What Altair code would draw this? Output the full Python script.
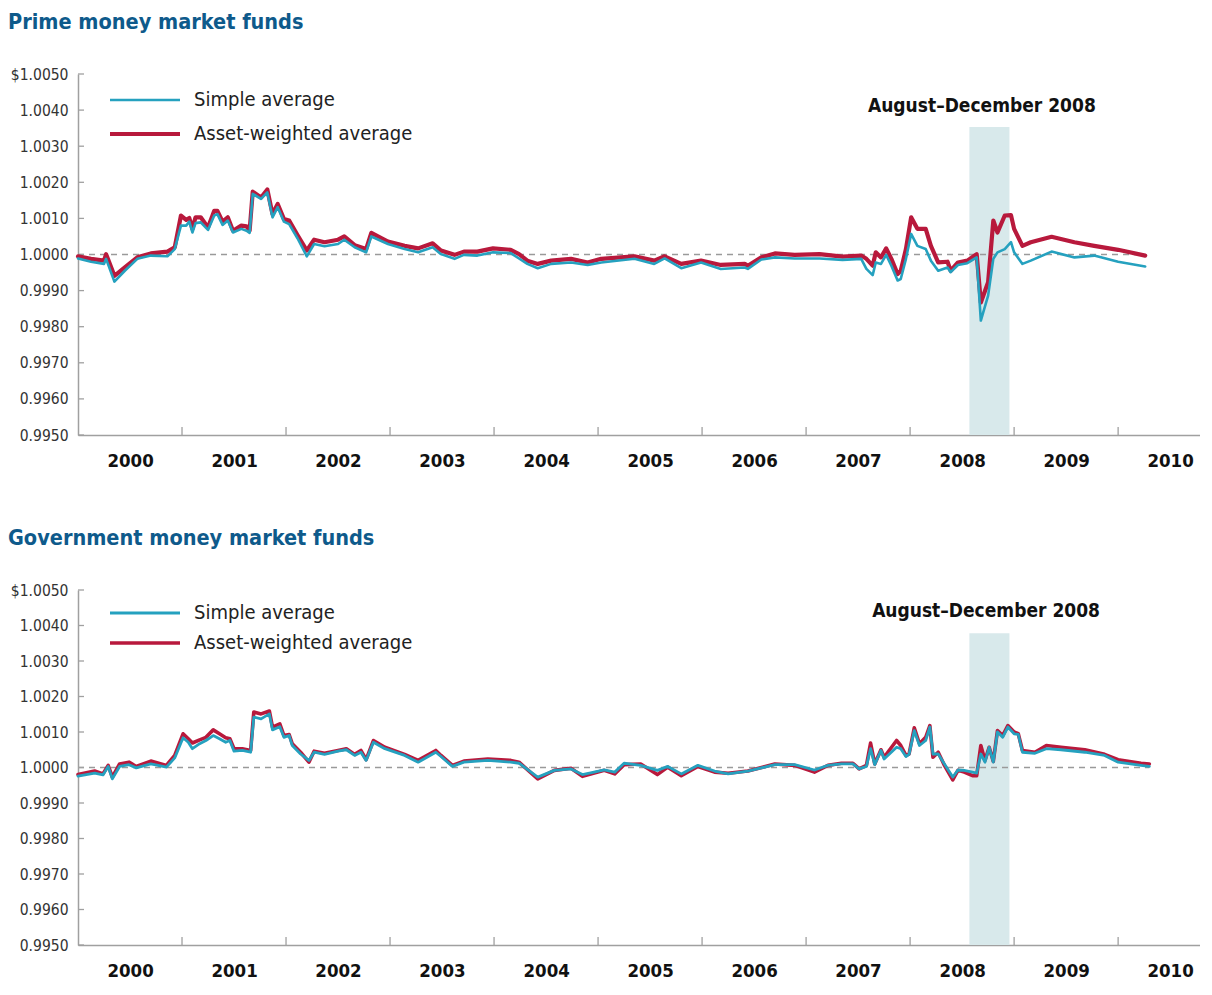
import altair as alt
import pandas as pd

FONT = "DejaVu Sans Condensed, Liberation Sans Narrow, sans-serif"
TEAL = "#25a1bf"
RED = "#b8193c"
SHADE = "#d8e9eb"
TITLE_BLUE = "#0e5a8b"
AXIS_GRAY = "#a0a0a0"

# ---------------- data ----------------
series_names = ["Simple average", "Asset-weighted average"]
y_tick_values = [0.9950, 0.9960, 0.9970, 0.9980, 0.9990, 1.0000,
                 1.0010, 1.0020, 1.0030, 1.0040, 1.0050]
year_labels = list(range(2000, 2011))
year_boundaries = list(range(2001, 2011))
par_value = 1.0000

crisis_label = "August\u2013December 2008"
crisis_start = 2008.57   # decimal years
crisis_end = 2008.955

# Prime funds: dates (decimal years) and NAV deviation from $1.0000 in units of $0.0001
prime_t = [2000.00, 2000.125, 2000.25, 2000.27, 2000.35, 2000.45, 2000.57, 2000.70, 2000.86, 2000.93,
           2000.99, 2001.04, 2001.07, 2001.10, 2001.13, 2001.18, 2001.25, 2001.31, 2001.34, 2001.39,
           2001.44, 2001.49, 2001.57, 2001.62, 2001.65, 2001.68, 2001.76, 2001.82, 2001.87, 2001.92,
           2001.98, 2002.03, 2002.11, 2002.20, 2002.27, 2002.37, 2002.50, 2002.56, 2002.66, 2002.77,
           2002.82, 2002.98, 2003.14, 2003.27, 2003.41, 2003.49, 2003.62, 2003.71, 2003.84, 2003.99,
           2004.16, 2004.24, 2004.32, 2004.42, 2004.55, 2004.74, 2004.90, 2005.03, 2005.35, 2005.54,
           2005.64, 2005.80, 2005.99, 2006.18, 2006.41, 2006.44, 2006.57, 2006.70, 2006.89, 2007.13,
           2007.35, 2007.53, 2007.58, 2007.64, 2007.67, 2007.72, 2007.77, 2007.82, 2007.88, 2007.91,
           2007.96, 2008.01, 2008.07, 2008.15, 2008.20, 2008.27, 2008.36, 2008.39, 2008.46, 2008.55,
           2008.64, 2008.68, 2008.75, 2008.80, 2008.84, 2008.91, 2008.97, 2009.00, 2009.08, 2009.16,
           2009.36, 2009.58, 2009.77, 2010.00, 2010.26]
prime_weighted = [-0.5, -1.2, -1.7, 0.1, -5.9, -3.6, -0.8, 0.3, 0.8, 2.0,
                  10.8, 9.6, 10.1, 7.1, 10.3, 10.3, 7.5, 12.1, 12.1, 9.1,
                  10.3, 6.6, 8.0, 7.8, 6.6, 17.4, 15.8, 18.0, 11.2, 14.0,
                  9.8, 9.4, 5.4, 1.1, 4.1, 3.4, 4.1, 5.0, 2.6, 1.5,
                  6.0, 3.6, 2.4, 1.7, 3.1, 1.1, -0.1, 0.8, 0.8, 1.7,
                  1.3, 0.1, -1.7, -2.6, -1.7, -1.2, -2.2, -1.2, -0.5, -1.7,
                  -0.5, -2.6, -1.7, -2.9, -2.6, -3.1, -0.8, 0.3, -0.1, 0.1,
                  -0.6, -0.3, -1.2, -3.1, 0.6, -0.8, 1.7, -1.2, -5.4, -4.5,
                  1.5, 10.3, 7.1, 7.1, 2.4, -2.2, -2.0, -4.5, -2.2, -1.7,
                  0.1, -13.3, -7.7, 9.4, 6.1, 10.8, 10.9, 7.1, 2.4, 3.4,
                  4.9, 3.4, 2.4, 1.3, -0.3]
prime_simple = [-1.1, -2.0, -2.6, -1.2, -7.5, -4.5, -1.2, -0.3, -0.5, 1.5,
                8.0, 8.0, 9.1, 6.1, 8.7, 8.9, 6.8, 10.8, 11.2, 8.2,
                9.4, 6.1, 7.1, 6.6, 6.0, 16.8, 15.4, 17.2, 10.3, 13.1,
                9.1, 8.4, 4.5, -0.5, 2.9, 2.3, 2.9, 4.1, 2.0, 0.6,
                5.0, 2.9, 1.5, 0.6, 2.0, 0.1, -1.2, -0.1, -0.3, 0.6,
                0.4, -1.1, -2.6, -3.8, -2.6, -2.2, -2.9, -2.2, -1.2, -2.6,
                -1.1, -3.8, -2.2, -4.0, -3.6, -4.0, -1.4, -0.8, -1.1, -1.1,
                -1.5, -1.2, -4.0, -5.7, -2.2, -2.6, -0.1, -3.1, -7.2, -6.8,
                -1.2, 5.7, 2.4, 1.5, -1.7, -4.5, -3.6, -4.9, -2.9, -2.4,
                -0.8, -18.3, -11.4, -1.2, 0.6, 1.5, 3.4, 0.6, -2.6, -1.7,
                0.8, -0.8, -0.3, -2.0, -3.3]

# Government funds
gov_t = [2000.00, 2000.16, 2000.24, 2000.29, 2000.33, 2000.40, 2000.49, 2000.56, 2000.70, 2000.85,
         2000.93, 2001.01, 2001.06, 2001.10, 2001.17, 2001.23, 2001.30, 2001.36, 2001.42, 2001.46,
         2001.50, 2001.58, 2001.66, 2001.69, 2001.76, 2001.84, 2001.87, 2001.94, 2001.98, 2002.03,
         2002.06, 2002.14, 2002.22, 2002.27, 2002.37, 2002.50, 2002.58, 2002.66, 2002.72, 2002.77,
         2002.84, 2002.95, 2003.14, 2003.27, 2003.44, 2003.49, 2003.60, 2003.71, 2003.94, 2004.16,
         2004.24, 2004.42, 2004.58, 2004.74, 2004.85, 2005.06, 2005.16, 2005.25, 2005.41, 2005.57,
         2005.67, 2005.80, 2005.96, 2006.12, 2006.25, 2006.44, 2006.70, 2006.89, 2007.08, 2007.21,
         2007.34, 2007.45, 2007.51, 2007.58, 2007.62, 2007.66, 2007.72, 2007.75, 2007.87, 2007.91,
         2007.96, 2007.99, 2008.04, 2008.09, 2008.15, 2008.19, 2008.22, 2008.27, 2008.33, 2008.41,
         2008.46, 2008.52, 2008.60, 2008.64, 2008.68, 2008.72, 2008.76, 2008.80, 2008.84, 2008.89,
         2008.94, 2009.00, 2009.04, 2009.08, 2009.20, 2009.31, 2009.45, 2009.68, 2009.87, 2010.00,
         2010.22, 2010.30]
gov_weighted = [-2.0, -1.0, -1.8, 0.6, -2.7, 1.0, 1.5, 0.3, 1.8, 0.6,
                3.4, 9.5, 8.1, 6.9, 7.8, 8.5, 10.6, 9.5, 8.4, 8.1,
                5.3, 5.3, 4.8, 15.6, 15.1, 15.9, 11.4, 12.3, 9.0, 9.3,
                6.7, 4.3, 1.5, 4.6, 4.0, 4.8, 5.3, 3.7, 4.8, 2.2,
                7.6, 5.7, 3.7, 2.0, 4.8, 3.4, 0.6, 1.8, 2.4, 2.0,
                1.5, -3.2, -0.8, -0.2, -2.5, -0.8, -1.8, 0.8, 1.0, -2.0,
                0.1, -2.3, 0.3, -1.3, -1.6, -1.0, 1.0, 0.6, -1.3, 0.6,
                1.2, 1.2, -0.4, 0.6, 6.9, 1.0, 5.0, 2.9, 7.6, 6.2,
                3.4, 3.8, 11.2, 6.7, 8.5, 11.8, 2.9, 4.3, 0.6, -3.5,
                -0.8, -1.3, -2.3, -2.3, 6.2, 2.0, 5.7, 1.7, 10.4, 9.0,
                11.8, 10.0, 9.5, 4.8, 4.3, 6.2, 5.7, 5.0, 3.7, 2.2,
                1.2, 1.0]
gov_simple = [-2.4, -1.6, -2.1, 0.3, -3.2, 0.3, 0.8, -0.1, 1.0, 0.1,
              2.7, 8.4, 7.1, 5.3, 6.7, 7.6, 9.0, 8.1, 7.1, 7.6,
              4.6, 4.8, 4.3, 14.2, 13.7, 15.1, 10.6, 11.5, 8.5, 9.0,
              6.2, 3.8, 2.0, 4.3, 3.7, 4.6, 5.0, 3.4, 4.3, 2.0,
              7.1, 5.3, 3.4, 1.5, 4.3, 3.1, 0.3, 1.5, 2.0, 1.5,
              1.2, -2.7, -0.8, -0.4, -2.0, -0.7, -1.3, 1.2, 0.6, -0.8,
              0.3, -1.8, 0.6, -1.0, -1.8, -1.0, 0.8, 0.8, -0.7, 0.6,
              1.0, 1.0, -0.4, 0.3, 5.3, 0.8, 4.8, 2.4, 5.7, 5.3,
              3.1, 3.7, 10.4, 6.2, 7.6, 11.4, 3.8, 3.8, 1.0, -2.7,
              -0.7, -0.8, -1.3, -1.6, 3.8, 1.5, 5.7, 1.5, 10.0, 8.5,
              11.4, 9.5, 9.3, 4.3, 4.0, 5.3, 5.0, 4.3, 3.4, 1.5,
              0.6, 0.3]

# annotation / shading positions in data units (decimal year, NAV)
prime_note = (2008.69, 1.00410)
prime_shade_top = 1.00353
gov_note = (2008.73, 1.00442)
gov_shade_top = 1.00378


# ---------------- helpers ----------------
def to_date(t):
    return pd.Timestamp("2000-01-01") + pd.to_timedelta((t - 2000.0) * 365.25, unit="D")


X_DOMAIN = [alt.DateTime(year=2000, month=1, date=1), alt.DateTime(year=2010, month=10, date=15)]
W = 1122


def x_axis():
    return alt.Axis(values=[alt.DateTime(year=y, month=7, date=2) for y in year_labels],
                    format="%Y", labelFont=FONT, labelFontSize=18.5, labelFontWeight="bold",
                    labelColor="#111111", ticks=False, tickSize=0, domainColor=AXIS_GRAY,
                    domainWidth=1.5, grid=False, labelPadding=16, title=None,
                    labelFlush=False, labelOverlap=False)


def y_axis():
    return alt.Axis(values=y_tick_values,
                    labelExpr="datum.value > 1.00495 ? '$' + format(datum.value, '.4f') : format(datum.value, '.4f')",
                    labelFont=FONT, labelFontSize=15.5, labelColor="#333333", ticks=False,
                    domainColor=AXIS_GRAY, domainWidth=1.5, grid=False, labelPadding=10,
                    minExtent=70, maxExtent=70, title=None)


def panel(title, t_vals, simple, weighted, shade_top, note, widths, legend_y, row_pad, legend_fs, height):
    dates = [to_date(t) for t in t_vals]
    df = pd.DataFrame({
        "date": dates + dates,
        "nav": [par_value + v / 10000.0 for v in simple] + [par_value + v / 10000.0 for v in weighted],
        "series": [series_names[0]] * len(dates) + [series_names[1]] * len(dates),
    })
    xs = alt.Scale(domain=X_DOMAIN)
    ys = alt.Scale(domain=[y_tick_values[0], y_tick_values[-1]], nice=False, zero=False)

    shade_df = pd.DataFrame({"start": [to_date(crisis_start)], "end": [to_date(crisis_end)],
                             "bottom": [y_tick_values[0]], "top": [shade_top]})
    shade = alt.Chart(shade_df).mark_rect(color=SHADE).encode(
        x=alt.X("start:T", scale=xs, axis=x_axis(), title=None),
        x2="end:T",
        y=alt.Y("bottom:Q", scale=ys, axis=y_axis(), title=None),
        y2="top:Q",
    )

    par_df = pd.DataFrame({"start": [dates[0]], "end": [dates[-1]], "nav": [par_value]})
    par = alt.Chart(par_df).mark_rule(color="#9a9a9a", strokeDash=[6, 5], strokeWidth=1.3).encode(
        x=alt.X("start:T", scale=xs, axis=x_axis(), title=None), x2="end:T",
        y=alt.Y("nav:Q", scale=ys, axis=y_axis(), title=None),
    )

    yt_df = pd.DataFrame({"date": [to_date(y) for y in year_boundaries]})
    yticks = alt.Chart(yt_df).mark_rule(color=AXIS_GRAY, strokeWidth=1.3).encode(
        x=alt.X("date:T", scale=xs, axis=x_axis(), title=None),
        y=alt.value(height), y2=alt.value(height - 8),
    )

    vt_df = pd.DataFrame({"v": y_tick_values})
    vticks = alt.Chart(vt_df).mark_rule(color=AXIS_GRAY, strokeWidth=1.3).encode(
        y=alt.Y("v:Q", scale=ys, axis=y_axis(), title=None),
        x=alt.value(0), x2=alt.value(6),
    )

    legend = alt.Legend(title=None, orient="none", legendX=57, legendY=legend_y,
                        symbolType="M-5,0H5", symbolSize=196, labelFont=FONT,
                        labelFontSize=legend_fs, labelColor="#222222", rowPadding=row_pad,
                        labelOffset=39, labelLimit=500, symbolFillColor="transparent")
    color = alt.Color("series:N", scale=alt.Scale(domain=series_names, range=[TEAL, RED]), legend=legend)
    sw = alt.StrokeWidth("series:N", scale=alt.Scale(domain=series_names, range=widths), legend=legend)

    def line_layer(name):
        return alt.Chart(df).transform_filter(alt.datum.series == name).mark_line(
            strokeJoin="round", strokeCap="round").encode(
            x=alt.X("date:T", scale=xs, axis=x_axis(), title=None),
            y=alt.Y("nav:Q", scale=ys, axis=y_axis(), title=None),
            color=color, strokeWidth=sw,
        )

    note_df = pd.DataFrame({"date": [to_date(note[0])], "nav": [note[1]], "label": [crisis_label]})
    note_text = alt.Chart(note_df).mark_text(font=FONT, fontSize=19, fontWeight="bold",
                                             color="#111111", baseline="middle").encode(
        x=alt.X("date:T", scale=xs, axis=x_axis(), title=None),
        y=alt.Y("nav:Q", scale=ys, axis=y_axis(), title=None),
        text="label:N",
    )

    return alt.layer(shade, par, yticks, vticks, line_layer(series_names[1]),
                     line_layer(series_names[0]), note_text).properties(
        width=W, height=height,
        title=alt.TitleParams(title, anchor="start", frame="group", dx=-70, offset=34,
                              font=FONT, fontSize=21.5, fontWeight="bold", color=TITLE_BLUE),
    )


top = panel("Prime money market funds", prime_t, prime_simple, prime_weighted,
            prime_shade_top, prime_note, [2.6, 4.2], 16, 14, 20, 361)
bottom = panel("Government money market funds", gov_t, gov_simple, gov_weighted,
               gov_shade_top, gov_note, [2.8, 3.6], 13, 10, 20, 355)

chart = alt.vconcat(top, bottom, spacing=57).resolve_scale(
    color="independent", strokeWidth="independent").resolve_legend(
    color="independent", strokeWidth="independent").configure_view(stroke=None).properties(
    padding={"left": 0, "top": 3, "right": 0, "bottom": 0})

chart.save("out.html", embed_options={"renderer": "svg", "actions": False})
